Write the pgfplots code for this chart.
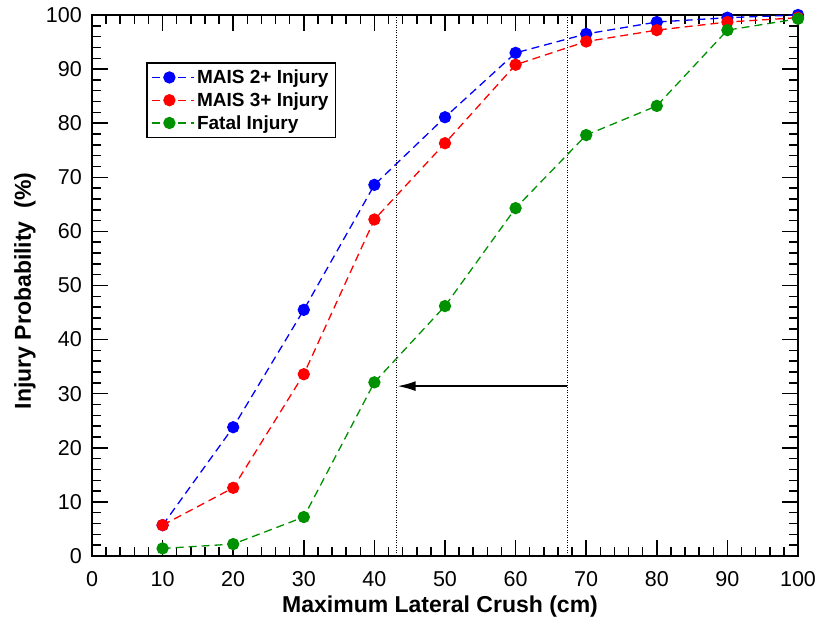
\documentclass[border=0pt]{standalone}
\usepackage{fontspec}
\setmainfont{Liberation Sans}
\usepackage{pgfplots}
\pgfplotsset{compat=1.18}
\usetikzlibrary{arrows.meta}
\definecolor{cblue}{RGB}{0,0,255}
\definecolor{cred}{RGB}{255,0,0}
\definecolor{cgreen}{RGB}{0,145,0}
\begin{document}
\begin{tikzpicture}
\path[use as bounding box] (-92pt,-70pt) rectangle (725pt,556pt);
\begin{axis}[
  at={(0pt,0pt)}, anchor=south west,
  scale only axis, width=706pt, height=541pt,
  xmin=0, xmax=100, ymin=0, ymax=100,
  xtick={0,10,...,100}, ytick={0,10,...,100},
  minor tick num=4,
  tick align=inside,
  major tick length=16pt, minor tick length=9pt,
  every tick/.style={black, line width=1.5pt},
  axis line style={line width=2pt},
  ticklabel style={font=\fontsize{21.5}{25}\selectfont, inner sep=0pt},
  /pgf/number format/assume math mode=true,
  xticklabel style={anchor=base, yshift=-31pt},
  yticklabel style={anchor=east, xshift=-10pt},
  xlabel={\textbf{Maximum Lateral Crush (cm)}},
  ylabel={\textbf{Injury Probability\ \ (\%)}},
  label style={font=\fontsize{23}{27}\selectfont, inner sep=0pt},
  xlabel style={at={(axis description cs:0.493,0)}, anchor=base, yshift=-57pt},
  ylabel style={at={(axis description cs:-0.0949,0.49)}, anchor=center},
  clip=false,
  legend style={at={(0.0765,0.913)}, anchor=north west, draw=black, line width=1.5pt,
    font=\bfseries\fontsize{19}{23}\selectfont, row sep=3.5pt, inner xsep=5pt, inner ysep=5pt},
  legend cell align=left,
  legend image code/.code={\draw[#1, mark repeat=2, mark phase=2] plot coordinates {(0pt,0pt) (17pt,0pt) (34pt,0pt)};
    \path (0pt,0pt) -- (42pt,0pt);},
  every axis plot/.append style={line width=1.3pt, dash pattern=on 8pt off 5pt},
]
\addplot[cblue, mark=*, mark size=5.5pt, mark options={solid, fill=cblue, draw=cblue}] coordinates {
(10,5.7)(20,23.8)(30,45.5)(40,68.6)(50,81.1)(60,93.0)(70,96.5)(80,98.7)(90,99.5)(100,100)};
\addlegendentry{MAIS 2+ Injury}
\addplot[cred, mark=*, mark size=5.5pt, mark options={solid, fill=cred, draw=cred}] coordinates {
(10,5.7)(20,12.6)(30,33.6)(40,62.2)(50,76.3)(60,90.8)(70,95.1)(80,97.2)(90,98.7)(100,99.5)};
\addlegendentry{MAIS 3+ Injury}
\addplot[cgreen, mark=*, mark size=5.5pt, mark options={solid, fill=cgreen, draw=cgreen}] coordinates {
(10,1.4)(20,2.2)(30,7.2)(40,32.1)(50,46.2)(60,64.3)(70,77.8)(80,83.2)(90,97.2)(100,99.3)};
\addlegendentry{Fatal Injury}
\addplot[forget plot, black, line width=0.8pt, solid, dash pattern=on 1pt off 1.5pt] coordinates {(43.1,0)(43.1,100)};
\addplot[forget plot, black, line width=0.8pt, solid, dash pattern=on 1pt off 1.5pt] coordinates {(67.3,0)(67.3,100)};
\addplot[forget plot, black, line width=1.6pt, solid, -{Latex[length=18pt,width=10pt]}] coordinates {(67.3,31.4)(43.3,31.4)};
\end{axis}
\end{tikzpicture}
\end{document}
